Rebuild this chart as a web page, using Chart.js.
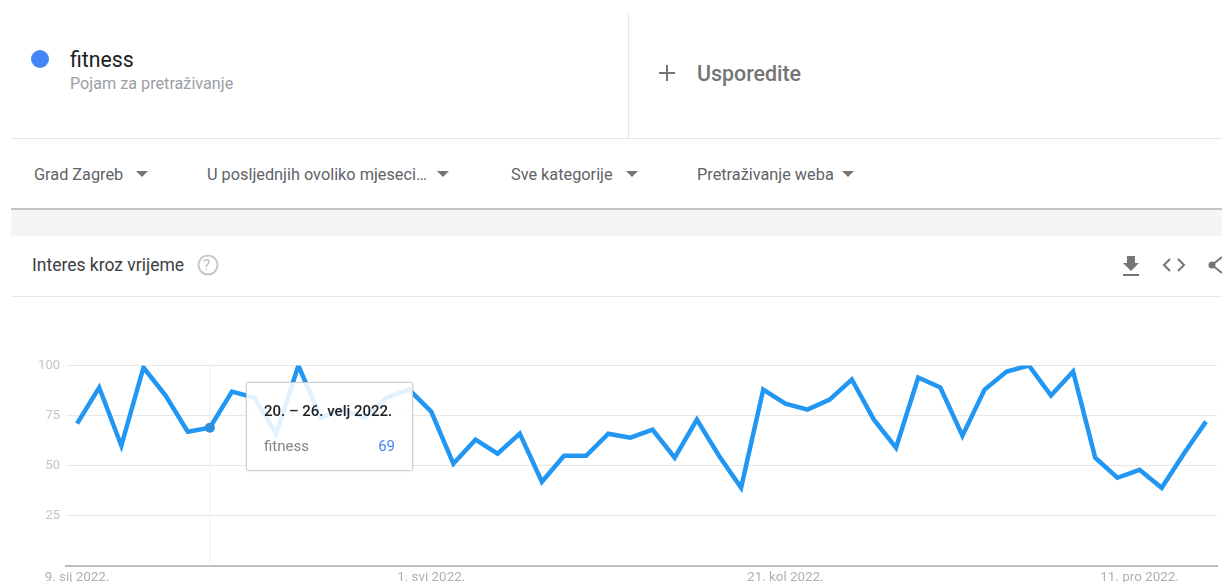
<!DOCTYPE html>
<html lang="hr">
<head>
<meta charset="utf-8">
<title>fitness</title>
<script src="https://cdn.jsdelivr.net/npm/chart.js@4"></script>
<style>
html, body { margin: 0; padding: 0; background: #fff; overflow: hidden; }
body { width: 1222px; height: 582px; position: relative; font-family: Roboto, sans-serif; }
.abs { position: absolute; white-space: nowrap; }
.txt { transform: translateY(-50%); line-height: 1; }
.drop { font-size: 16.3px; color: #5f6368; top: 175px; }
.arrow { position: absolute; top: 171px; width: 0; height: 0; border-left: 6px solid transparent; border-right: 6px solid transparent; border-top: 6px solid #757575; }
#tip { position: absolute; left: 246px; top: 382px; width: 167px; height: 89px; box-sizing: border-box; background: rgba(255,255,255,.87); border: 1px solid #cfcfcf; border-radius: 2px; box-shadow: 0 0 2px rgba(0,0,0,.15); }
canvas { position: absolute; left: 0; top: 297px; }
</style>
</head>
<body>
<div class="abs" style="left:31px;top:50px;width:18px;height:18px;border-radius:50%;background:#4285f4"></div>
<div class="abs txt" style="left:70px;top:60px;font-size:21.3px;color:#202124">fitness</div>
<div class="abs txt" style="left:70px;top:84px;font-size:16.2px;color:#9aa0a6">Pojam za pretraživanje</div>
<div class="abs" style="left:628px;top:13px;width:1px;height:125px;background:#e6e6e6"></div>
<svg class="abs" style="left:658px;top:64px" width="18" height="18"><path d="M1 9H17M9 1V17" stroke="#757575" stroke-width="2"/></svg>
<div class="abs txt" style="left:697px;top:74px;font-size:21.4px;font-weight:500;color:#757575">Usporedite</div>
<div class="abs" style="left:11px;top:138px;width:1211px;height:1px;background:#e6e6e6"></div>

<div class="abs txt drop" style="left:34px">Grad Zagreb</div>
<div class="arrow" style="left:136px"></div>
<div class="abs txt drop" style="left:207px">U posljednjih ovoliko mjeseci…</div>
<div class="arrow" style="left:437px"></div>
<div class="abs txt drop" style="left:511px">Sve kategorije</div>
<div class="arrow" style="left:626px"></div>
<div class="abs txt drop" style="left:697px">Pretraživanje weba</div>
<div class="arrow" style="left:842px"></div>

<div class="abs" style="left:11px;top:208px;width:1211px;height:2px;background:#c4c4c4"></div>
<div class="abs" style="left:11px;top:210px;width:1211px;height:26px;background:#f5f5f5"></div>

<div class="abs txt" style="left:32px;top:266px;font-size:17.5px;color:#3c4043">Interes kroz vrijeme</div>
<svg class="abs" style="left:197px;top:254px" width="22" height="22"><circle cx="11" cy="11" r="9.5" fill="none" stroke="#c8c8c8" stroke-width="2"/></svg>
<div class="abs txt" style="left:203px;top:265px;font-size:15px;color:#bdbdbd">?</div>
<svg class="abs" style="left:1120px;top:254px" width="102" height="24">
  <path d="M7 2H15V9H19L11 17L3 9H7Z M3 20H19V22H3Z" fill="#757575"/>
  <path d="M50 5L44 11L50 17M58 5L64 11L58 17" fill="none" stroke="#757575" stroke-width="2"/>
  <path d="M102 3L92 11L102 19" fill="none" stroke="#757575" stroke-width="2"/>
  <circle cx="92" cy="11" r="3.5" fill="#757575"/>
</svg>
<div class="abs" style="left:11px;top:296px;width:1211px;height:1px;background:#e8e8e8"></div>

<canvas id="graf" width="1222" height="285"></canvas>

<div id="tip">
  <div class="abs txt" id="tipDate" style="left:17px;top:28px;font-size:15px;font-weight:500;color:#202124"></div>
  <div class="abs txt" id="tipName" style="left:17px;top:63px;font-size:15px;color:#80868b"></div>
  <div class="abs txt" id="tipVal" style="right:17px;top:63px;font-size:15px;color:#4285f4"></div>
</div>

<script>
const tjedni = [
  '9. sij 2022.', '16. sij 2022.', '23. sij 2022.', '30. sij 2022.',
  '6. velj 2022.', '13. velj 2022.', '20. velj 2022.', '27. velj 2022.',
  '6. ožu 2022.', '13. ožu 2022.', '20. ožu 2022.', '27. ožu 2022.',
  '3. tra 2022.', '10. tra 2022.', '17. tra 2022.', '24. tra 2022.',
  '1. svi 2022.', '8. svi 2022.', '15. svi 2022.', '22. svi 2022.', '29. svi 2022.',
  '5. lip 2022.', '12. lip 2022.', '19. lip 2022.', '26. lip 2022.',
  '3. srp 2022.', '10. srp 2022.', '17. srp 2022.', '24. srp 2022.', '31. srp 2022.',
  '7. kol 2022.', '14. kol 2022.', '21. kol 2022.', '28. kol 2022.',
  '4. ruj 2022.', '11. ruj 2022.', '18. ruj 2022.', '25. ruj 2022.',
  '2. lis 2022.', '9. lis 2022.', '16. lis 2022.', '23. lis 2022.', '30. lis 2022.',
  '6. stu 2022.', '13. stu 2022.', '20. stu 2022.', '27. stu 2022.',
  '4. pro 2022.', '11. pro 2022.', '18. pro 2022.', '25. pro 2022.', '1. sij 2023.'
];
const fitness = [
  71, 89, 60, 99, 85, 67, 69, 87, 84, 66, 100, 74, 78, 74, 84, 88,
  77, 51, 63, 56, 66, 42, 55, 55, 66, 64, 68, 54, 73, 55, 39, 88,
  81, 78, 83, 93, 73, 59, 94, 89, 65, 88, 97, 100, 85, 97, 54, 44,
  48, 39, 56, 72
];
const oznakeX = ['9. sij 2022.', '1. svi 2022.', '21. kol 2022.', '11. pro 2022.'];
const oznakeY = [25, 50, 75, 100];
const odabrani = 6;
const odabraniTekst = '20. – 26. velj 2022.';
const pojam = 'fitness';

document.getElementById('tipDate').textContent = odabraniTekst;
document.getElementById('tipName').textContent = pojam;
document.getElementById('tipVal').textContent = fitness[odabrani];

// faint vertical line under the selected week
const linijaTjedna = {
  id: 'linijaTjedna',
  beforeDatasetsDraw(chart) {
    const x = chart.scales.x.getPixelForValue(odabrani);
    const c = chart.ctx;
    c.save();
    c.strokeStyle = '#efefef';
    c.lineWidth = 1;
    c.beginPath();
    c.moveTo(x, chart.chartArea.top);
    c.lineTo(x, chart.chartArea.bottom);
    c.stroke();
    c.restore();
  }
};

const ctx = document.getElementById('graf').getContext('2d');
const graf = new Chart(ctx, {
  type: 'line',
  data: {
    labels: tjedni,
    datasets: [{
      label: pojam,
      data: fitness,
      borderColor: '#2196f3',
      borderWidth: 4.5,
      borderJoinStyle: 'miter',
      tension: 0,
      fill: false,
      pointRadius: c => c.dataIndex === odabrani ? 5 : 0,
      pointBackgroundColor: '#2f8fdf',
      pointBorderWidth: 0
    }]
  },
  plugins: [linijaTjedna],
  options: {
    responsive: false,
    animation: false,
    events: [],
    layout: { padding: { top: 68.5, right: 5 } },
    plugins: { legend: { display: false }, tooltip: { enabled: false } },
    scales: {
      x: {
        offset: true,
        afterFit: s => { s.height = 16; },
        grid: { display: false, drawTicks: false },
        border: { color: '#bdbdbd', width: 2 },
        ticks: {
          autoSkip: false,
          maxRotation: 0,
          padding: 4,
          color: '#b0b0b0',
          font: { family: 'Roboto', size: 13.4 },
          callback(v) {
            const t = this.getLabelForValue(v);
            return oznakeX.includes(t) ? t : '';
          }
        }
      },
      y: {
        min: 0,
        max: 100,
        afterFit: s => { s.width = 66; },
        border: { display: false },
        grid: { color: '#e8e8e8', drawTicks: false, lineWidth: 1 },
        ticks: {
          stepSize: 25,
          padding: 6,
          color: '#c4c4c4',
          font: { family: 'Roboto', size: 13 },
          callback: v => oznakeY.includes(v) ? v : ''
        }
      }
    }
  }
});
</script>
</body>
</html>
